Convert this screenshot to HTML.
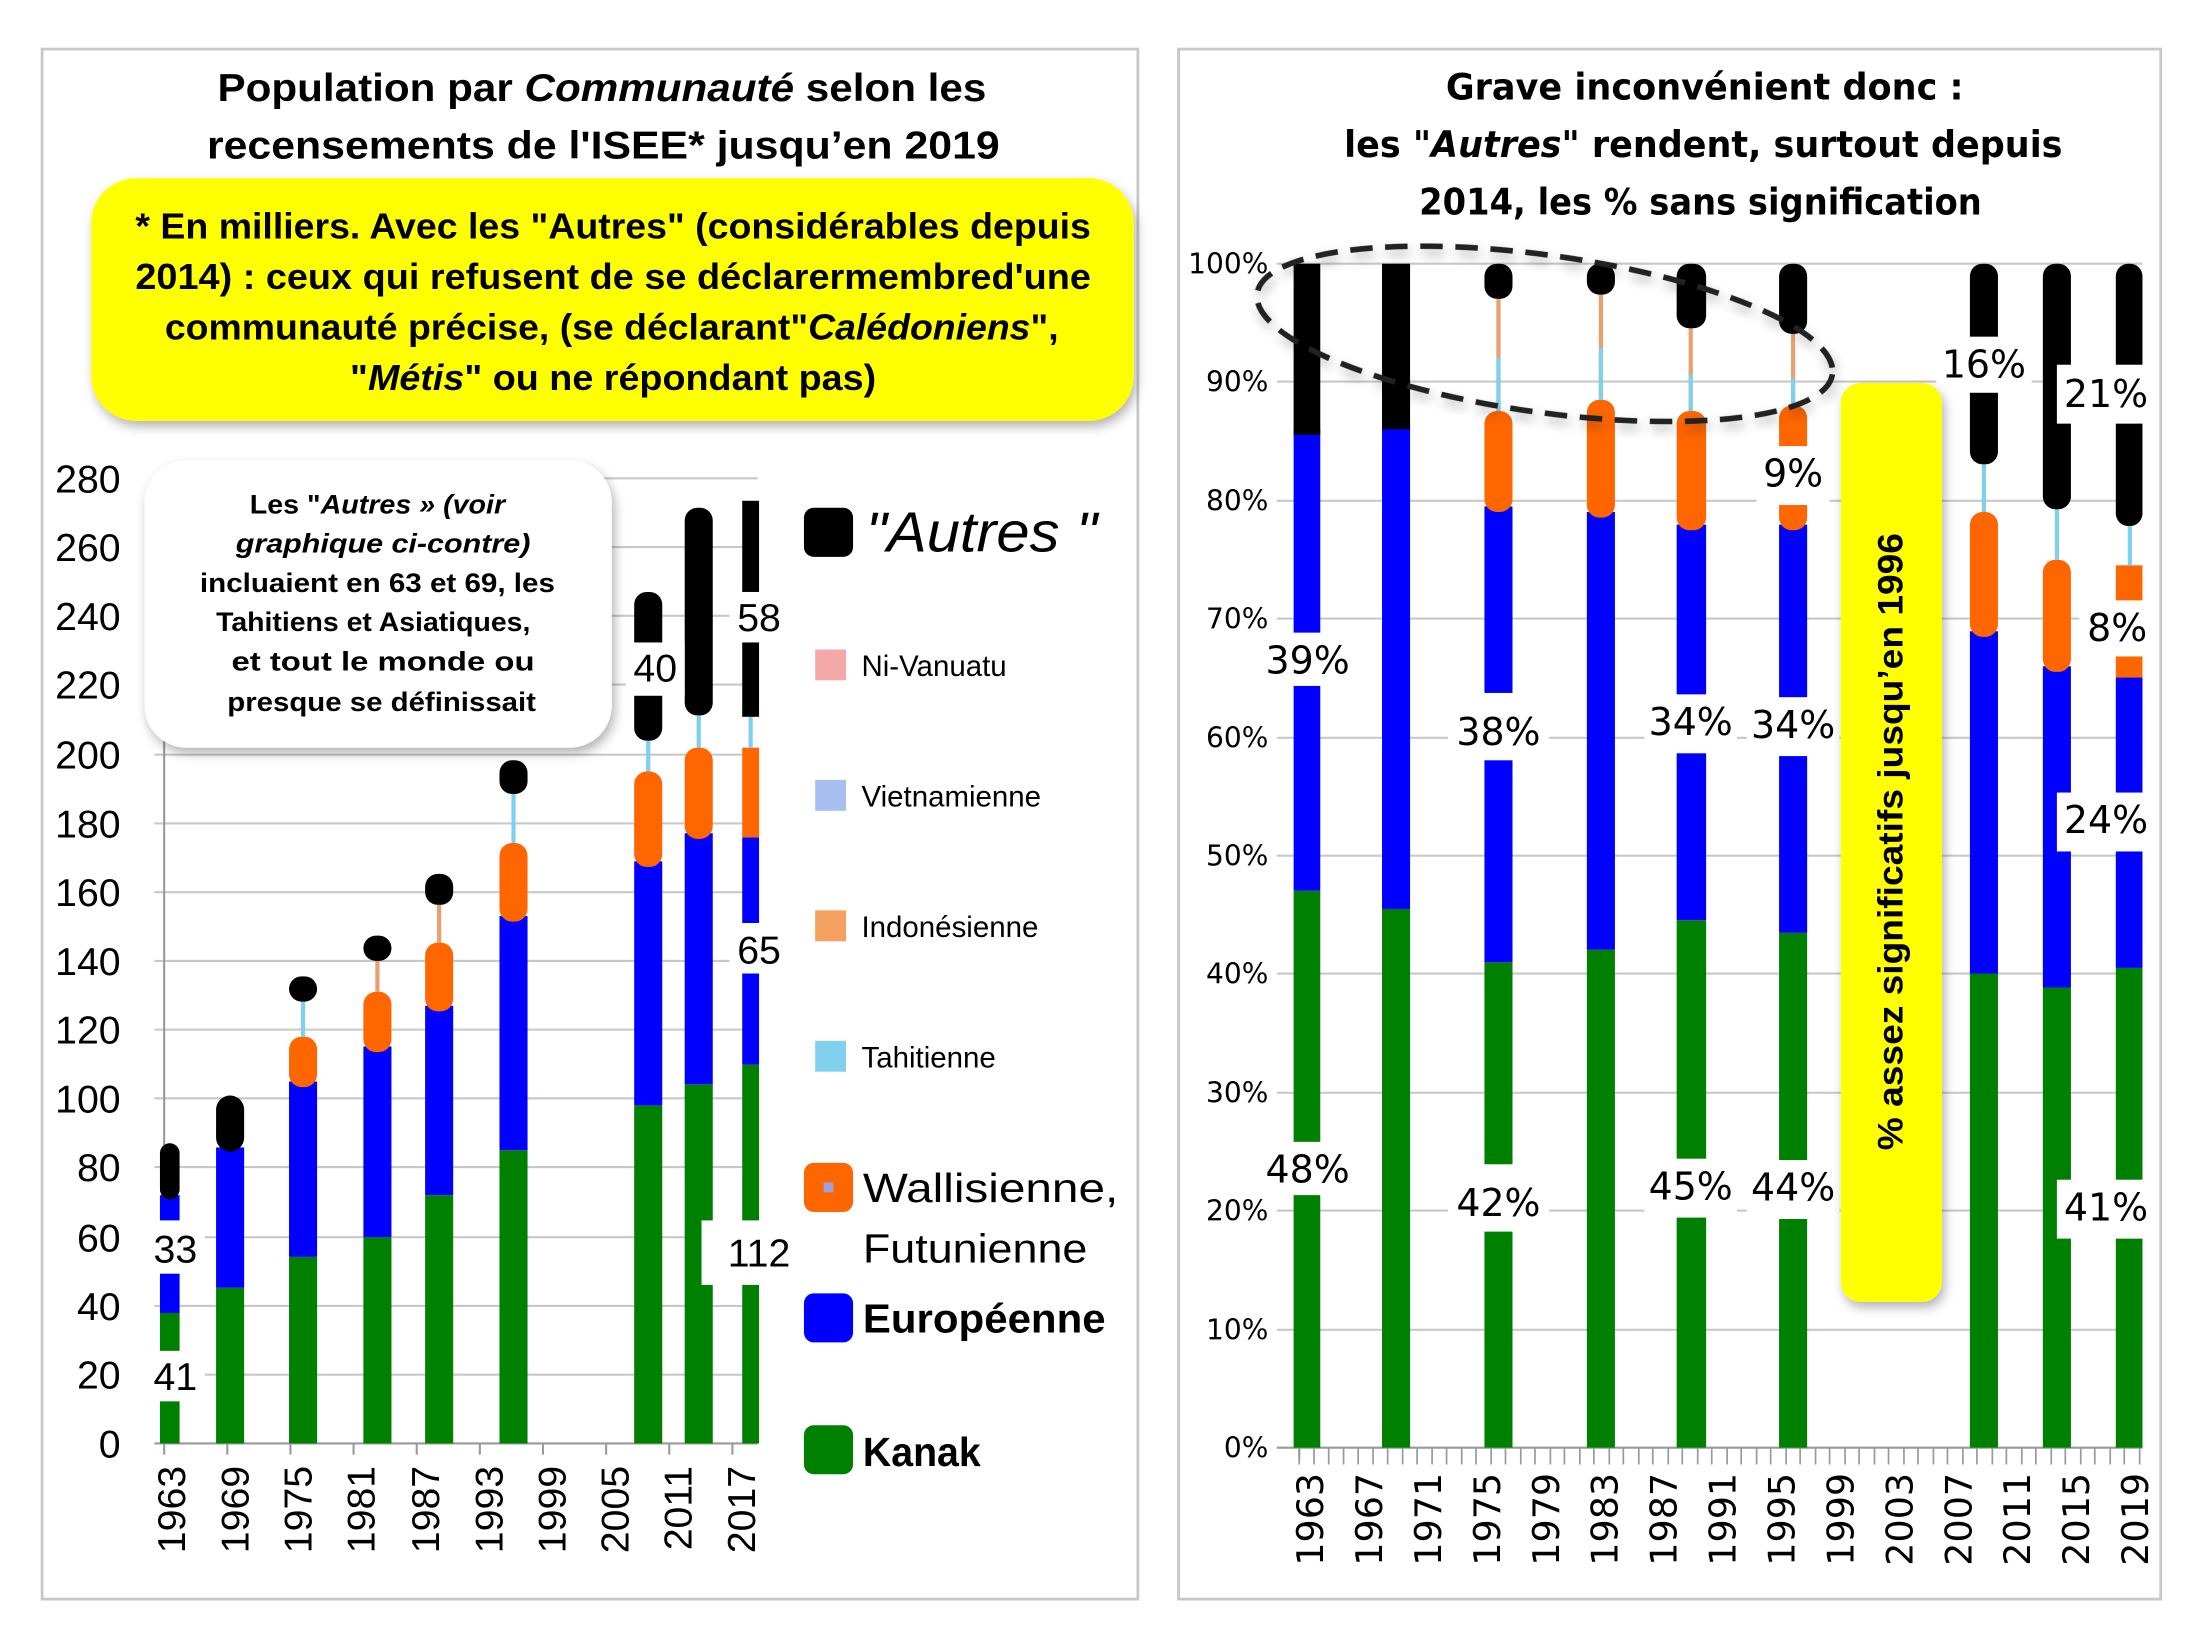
<!DOCTYPE html>
<html><head><meta charset="utf-8"><style>html,body{margin:0;padding:0;background:#fff}svg{display:block}</style></head>
<body>
<svg width="2200" height="1630" viewBox="0 0 1568 1162" preserveAspectRatio="none" xmlns="http://www.w3.org/2000/svg" font-family="Liberation Sans, DejaVu Sans, sans-serif">
<defs>
<filter id="sh" x="-10%" y="-10%" width="125%" height="130%"><feDropShadow dx="2" dy="4" stdDeviation="4" flood-color="#000" flood-opacity="0.3"/></filter>
</defs>
<rect width="1568" height="1162" fill="#fff"/>
<!-- LEFT PANEL -->
<rect x="30" y="35" width="781" height="1105" fill="#fff" stroke="#c8c8c8" stroke-width="2"/>
<g font-weight="bold" font-size="28" text-anchor="middle" fill="#000">
<text x="429" y="72" textLength="548" lengthAdjust="spacingAndGlyphs">Population par  <tspan font-style="italic">Communauté</tspan> selon les</text>
<text x="430" y="113" textLength="565" lengthAdjust="spacingAndGlyphs">recensements de l'ISEE* jusqu’en   2019</text>
</g>
<rect x="65" y="127" width="743" height="173" rx="32" fill="#ffff00" filter="url(#sh)"/>
<g font-weight="bold" font-size="26" text-anchor="middle" fill="#000">
<text x="437" y="170" textLength="681" lengthAdjust="spacingAndGlyphs">* En milliers. Avec les "Autres" (considérables depuis</text>
<text x="437" y="206" textLength="681" lengthAdjust="spacingAndGlyphs">2014) : ceux qui refusent de se déclarermembred'une</text>
<text x="436" y="242" textLength="637" lengthAdjust="spacingAndGlyphs">communauté précise, (se déclarant"<tspan font-style="italic">Calédoniens</tspan>",</text>
<text x="437" y="278" textLength="375" lengthAdjust="spacingAndGlyphs">"<tspan font-style="italic">Métis</tspan>" ou ne répondant pas)</text>
</g>
<!-- left grid -->
<g stroke="#c8c8c8" stroke-width="1.5">
<line x1="110" y1="341" x2="540" y2="341"/><line x1="110" y1="390" x2="540" y2="390"/><line x1="110" y1="439" x2="540" y2="439"/><line x1="110" y1="488" x2="540" y2="488"/><line x1="110" y1="538" x2="540" y2="538"/><line x1="110" y1="587" x2="540" y2="587"/><line x1="110" y1="636" x2="540" y2="636"/><line x1="110" y1="685" x2="540" y2="685"/><line x1="110" y1="734" x2="540" y2="734"/><line x1="110" y1="783" x2="540" y2="783"/><line x1="110" y1="832" x2="540" y2="832"/><line x1="110" y1="882" x2="540" y2="882"/><line x1="110" y1="931" x2="540" y2="931"/><line x1="110" y1="980" x2="540" y2="980"/>
</g>
<g stroke="#999" stroke-width="1.5">
<line x1="117" y1="520" x2="117" y2="1037"/><line x1="110" y1="1029" x2="540" y2="1029"/>
<line x1="162" y1="1029" x2="162" y2="1037"/><line x1="207" y1="1029" x2="207" y2="1037"/><line x1="252" y1="1029" x2="252" y2="1037"/><line x1="297" y1="1029" x2="297" y2="1037"/><line x1="342" y1="1029" x2="342" y2="1037"/><line x1="387" y1="1029" x2="387" y2="1037"/><line x1="432" y1="1029" x2="432" y2="1037"/><line x1="477" y1="1029" x2="477" y2="1037"/><line x1="522" y1="1029" x2="522" y2="1037"/>
</g>
<g font-size="28" text-anchor="end" fill="#000">
<text x="86" y="351">280</text><text x="86" y="400">260</text><text x="86" y="449">240</text><text x="86" y="498">220</text><text x="86" y="548">200</text><text x="86" y="597">180</text><text x="86" y="646">160</text><text x="86" y="695">140</text><text x="86" y="744">120</text><text x="86" y="793">100</text><text x="86" y="842">80</text><text x="86" y="892">60</text><text x="86" y="941">40</text><text x="86" y="990">20</text><text x="86" y="1039">0</text>
</g>
<g font-size="28" fill="#000" text-anchor="end">
<text transform="translate(132,1045) rotate(-90)">1963</text>
<text transform="translate(177,1045) rotate(-90)">1969</text>
<text transform="translate(222,1045) rotate(-90)">1975</text>
<text transform="translate(267,1045) rotate(-90)">1981</text>
<text transform="translate(313,1045) rotate(-90)">1987</text>
<text transform="translate(358,1045) rotate(-90)">1993</text>
<text transform="translate(403,1045) rotate(-90)">1999</text>
<text transform="translate(448,1045) rotate(-90)">2005</text>
<text transform="translate(493,1045) rotate(-90)">2011</text>
<text transform="translate(538,1045) rotate(-90)">2017</text>
</g>
<!-- left bars -->
<g>
<!-- 1963 -->
<rect x="114" y="936" width="14" height="93" fill="#008000"/><rect x="114" y="852" width="14" height="84" fill="#0000ff"/><rect x="114" y="815" width="14" height="40" rx="7" fill="#000"/>
<!-- 1969 -->
<rect x="154" y="918" width="20" height="111" fill="#008000"/><rect x="154" y="818" width="20" height="100" fill="#0000ff"/><rect x="154" y="781" width="20" height="40" rx="10" fill="#000"/>
<!-- 1976 -->
<rect x="206" y="896" width="20" height="133" fill="#008000"/><rect x="206" y="771" width="20" height="125" fill="#0000ff"/><rect x="206" y="739" width="20" height="36" rx="9" fill="#ff6600"/><line x1="216" y1="739" x2="216" y2="712" stroke="#7fd0ee" stroke-width="3"/><rect x="206" y="696" width="20" height="18" rx="9" fill="#000"/>
<!-- 1983 -->
<rect x="259" y="882" width="20" height="147" fill="#008000"/><rect x="259" y="746" width="20" height="136" fill="#0000ff"/><rect x="259" y="707" width="20" height="43" rx="9" fill="#ff6600"/><line x1="269" y1="707" x2="269" y2="682" stroke="#e8a070" stroke-width="3"/><rect x="259" y="667" width="20" height="18" rx="9" fill="#000"/>
<!-- 1989 -->
<rect x="303" y="852" width="20" height="177" fill="#008000"/><rect x="303" y="717" width="20" height="135" fill="#0000ff"/><rect x="303" y="672" width="20" height="49" rx="9" fill="#ff6600"/><line x1="313" y1="672" x2="313" y2="642" stroke="#e8a070" stroke-width="3"/><rect x="303" y="623" width="20" height="22" rx="9" fill="#000"/>
<!-- 1996 -->
<rect x="356" y="820" width="20" height="209" fill="#008000"/><rect x="356" y="653" width="20" height="167" fill="#0000ff"/><rect x="356" y="601" width="20" height="56" rx="9" fill="#ff6600"/><line x1="366" y1="601" x2="366" y2="564" stroke="#7fd0ee" stroke-width="3"/><rect x="356" y="542" width="20" height="24" rx="9" fill="#000"/>
<!-- 2009 -->
<rect x="452" y="788" width="20" height="241" fill="#008000"/><rect x="452" y="614" width="20" height="174" fill="#0000ff"/><rect x="452" y="550" width="20" height="68" rx="9" fill="#ff6600"/><line x1="462" y1="550" x2="462" y2="526" stroke="#7fd0ee" stroke-width="3"/><rect x="452" y="422" width="20" height="106" rx="9" fill="#000"/>
<!-- 2014 -->
<rect x="488" y="773" width="20" height="256" fill="#008000"/><rect x="488" y="594" width="20" height="179" fill="#0000ff"/><rect x="488" y="533" width="20" height="65" rx="9" fill="#ff6600"/><line x1="498" y1="533" x2="498" y2="510" stroke="#7fd0ee" stroke-width="3"/><rect x="488" y="362" width="20" height="148" rx="9" fill="#000"/>
<!-- 2019 -->
<rect x="529" y="759" width="12" height="270" fill="#008000"/><rect x="529" y="597" width="12" height="162" fill="#0000ff"/><rect x="529" y="533" width="12" height="64" fill="#ff6600"/><line x1="535" y1="533" x2="535" y2="511" stroke="#7fd0ee" stroke-width="3"/><rect x="529" y="357" width="12" height="154" fill="#000"/>
</g>
<g font-size="28" text-anchor="middle" fill="#000">
<rect x="104" y="963" width="42" height="36" fill="#fff"/><text x="125" y="991">41</text>
<rect x="104" y="870" width="42" height="38" fill="#fff"/><text x="125" y="900">33</text>
<rect x="446" y="458" width="42" height="38" fill="#fff"/><text x="467" y="486">40</text>
<rect x="520" y="422" width="42" height="36" fill="#fff"/><text x="541" y="450">58</text>
<rect x="520" y="658" width="42" height="36" fill="#fff"/><text x="541" y="687">65</text>
<rect x="500" y="870" width="72" height="46" fill="#fff"/><text x="541" y="903">112</text>
</g>
<!-- callout -->
<rect x="103" y="328" width="333" height="205" rx="30" fill="#fff" filter="url(#sh)"/>
<g font-weight="bold" font-size="19" text-anchor="middle" fill="#000">
<text x="269" y="366" textLength="182" lengthAdjust="spacingAndGlyphs">Les "<tspan font-style="italic">Autres  » (voir</tspan></text>
<text x="273" y="394" textLength="210" lengthAdjust="spacingAndGlyphs" font-style="italic">graphique ci-contre)</text>
<text x="269" y="422" textLength="253" lengthAdjust="spacingAndGlyphs">incluaient en 63 et 69, les</text>
<text x="266" y="450" textLength="224" lengthAdjust="spacingAndGlyphs">Tahitiens et Asiatiques,</text>
<text x="273" y="478" textLength="216" lengthAdjust="spacingAndGlyphs">et tout le monde ou</text>
<text x="272" y="507" textLength="220" lengthAdjust="spacingAndGlyphs">presque se définissait</text>
</g>
<!-- legend -->
<rect x="573" y="362" width="35" height="35" rx="7" fill="#000"/>
<text x="617" y="393" font-size="40" font-style="italic" textLength="165" lengthAdjust="spacingAndGlyphs">"Autres "</text>
<rect x="581" y="463" width="22" height="22" fill="#f4a8a8"/><text x="614" y="482" font-size="21">Ni-Vanuatu</text>
<rect x="581" y="556" width="22" height="22" fill="#a8c0f0"/><text x="614" y="575" font-size="21">Vietnamienne</text>
<rect x="581" y="649" width="22" height="22" fill="#f4a060"/><text x="614" y="668" font-size="21">Indonésienne</text>
<rect x="581" y="742" width="22" height="22" fill="#80d0ee"/><text x="614" y="761" font-size="21">Tahitienne</text>
<rect x="573" y="829" width="35" height="35" rx="7" fill="#ff6600"/><rect x="587" y="843" width="7" height="7" fill="#a0a0e0"/>
<text x="615" y="857" font-size="29" textLength="182" lengthAdjust="spacingAndGlyphs">Wallisienne,</text>
<text x="615" y="900" font-size="29" textLength="160" lengthAdjust="spacingAndGlyphs">Futunienne</text>
<rect x="573" y="922" width="35" height="35" rx="7" fill="#0000ff"/>
<text x="615" y="950" font-size="29" font-weight="bold" textLength="173" lengthAdjust="spacingAndGlyphs">Européenne</text>
<rect x="573" y="1016" width="35" height="35" rx="7" fill="#008000"/>
<text x="615" y="1045" font-size="29" font-weight="bold" textLength="84" lengthAdjust="spacingAndGlyphs">Kanak</text>

<!-- RIGHT PANEL -->
<rect x="840" y="35" width="700" height="1105" fill="#fff" stroke="#c8c8c8" stroke-width="2"/>
<g font-weight="bold" font-size="26" text-anchor="middle" fill="#000" font-family="DejaVu Sans, sans-serif">
<text x="1215" y="71" textLength="369" lengthAdjust="spacingAndGlyphs">Grave inconvénient donc :</text>
<text x="1214" y="112" textLength="512" lengthAdjust="spacingAndGlyphs">les "<tspan font-style="italic">Autres</tspan>" rendent, surtout depuis</text>
<text x="1212" y="153" textLength="401" lengthAdjust="spacingAndGlyphs">2014, les % sans signification</text>
</g>
<g stroke="#c8c8c8" stroke-width="1.5">
<line x1="910" y1="188" x2="1527" y2="188"/><line x1="910" y1="272" x2="1527" y2="272"/><line x1="910" y1="357" x2="1527" y2="357"/><line x1="910" y1="441" x2="1527" y2="441"/><line x1="910" y1="526" x2="1527" y2="526"/><line x1="910" y1="610" x2="1527" y2="610"/><line x1="910" y1="694" x2="1527" y2="694"/><line x1="910" y1="779" x2="1527" y2="779"/><line x1="910" y1="863" x2="1527" y2="863"/><line x1="910" y1="948" x2="1527" y2="948"/>
</g>
<g stroke="#999" stroke-width="1.5">
<line x1="926" y1="188" x2="926" y2="1040"/><line x1="910" y1="1032" x2="1527" y2="1032"/>
</g>
<g stroke="#999" stroke-width="1.2" id="ticks">
<path d="M926 1032v12M936.5 1032v12M947 1032v12M957.6 1032v12M968 1032v12M978.6 1032v12M989 1032v12M999.7 1032v12M1010 1032v12M1020.7 1032v12M1031 1032v12M1041.8 1032v12M1052 1032v12M1062.8 1032v12M1073 1032v12M1083.9 1032v12M1094 1032v12M1105 1032v12M1115 1032v12M1126 1032v12M1136 1032v12M1147 1032v12M1157 1032v12M1168 1032v12M1178 1032v12M1189 1032v12M1199 1032v12M1210 1032v12M1220 1032v12M1231 1032v12M1241 1032v12M1252 1032v12M1262 1032v12M1273 1032v12M1283 1032v12M1294 1032v12M1304 1032v12M1315 1032v12M1325 1032v12M1336 1032v12M1346 1032v12M1357 1032v12M1367 1032v12M1378 1032v12M1388 1032v12M1399 1032v12M1409 1032v12M1420 1032v12M1430 1032v12M1441 1032v12M1451 1032v12M1462 1032v12M1472 1032v12M1483 1032v12M1493 1032v12M1504 1032v12M1514 1032v12M1525 1032v12"/>
</g>
<g font-size="20" text-anchor="end" fill="#000" font-family="DejaVu Sans, sans-serif">
<text x="904" y="195">100%</text><text x="904" y="279">90%</text><text x="904" y="364">80%</text><text x="904" y="448">70%</text><text x="904" y="533">60%</text><text x="904" y="617">50%</text><text x="904" y="701">40%</text><text x="904" y="786">30%</text><text x="904" y="870">20%</text><text x="904" y="955">10%</text><text x="904" y="1039">0%</text>
</g>
<g font-size="26" fill="#000" text-anchor="end" font-family="DejaVu Sans, sans-serif">
<text transform="translate(943,1050) rotate(-90)">1963</text>
<text transform="translate(985,1050) rotate(-90)">1967</text>
<text transform="translate(1027,1050) rotate(-90)">1971</text>
<text transform="translate(1069,1050) rotate(-90)">1975</text>
<text transform="translate(1111,1050) rotate(-90)">1979</text>
<text transform="translate(1153,1050) rotate(-90)">1983</text>
<text transform="translate(1195,1050) rotate(-90)">1987</text>
<text transform="translate(1237,1050) rotate(-90)">1991</text>
<text transform="translate(1279,1050) rotate(-90)">1995</text>
<text transform="translate(1321,1050) rotate(-90)">1999</text>
<text transform="translate(1363,1050) rotate(-90)">2003</text>
<text transform="translate(1405,1050) rotate(-90)">2007</text>
<text transform="translate(1447,1050) rotate(-90)">2011</text>
<text transform="translate(1489,1050) rotate(-90)">2015</text>
<text transform="translate(1531,1050) rotate(-90)">2019</text>
</g>
<!-- right bars -->
<g>
<rect x="922" y="635" width="19" height="397" fill="#008000"/><rect x="922" y="306" width="19" height="329" fill="#0000ff"/><rect x="922" y="188" width="19" height="122" fill="#000"/>
<rect x="985" y="648" width="20" height="384" fill="#008000"/><rect x="985" y="302" width="20" height="346" fill="#0000ff"/><rect x="985" y="188" width="20" height="118" fill="#000"/>
<rect x="1058" y="686" width="20" height="346" fill="#008000"/><rect x="1058" y="361" width="20" height="325" fill="#0000ff"/><rect x="1058" y="293" width="20" height="72" rx="9" fill="#ff6600"/><line x1="1068" y1="293" x2="1068" y2="211" stroke="#e8a070" stroke-width="3"/><line x1="1068" y1="293" x2="1068" y2="255" stroke="#7fd0ee" stroke-width="3"/><rect x="1058" y="188" width="20" height="25" rx="9" fill="#000"/>
<rect x="1131" y="677" width="20" height="355" fill="#008000"/><rect x="1131" y="365" width="20" height="312" fill="#0000ff"/><rect x="1131" y="285" width="20" height="84" rx="9" fill="#ff6600"/><line x1="1141" y1="285" x2="1141" y2="207" stroke="#e8a070" stroke-width="3"/><line x1="1141" y1="285" x2="1141" y2="248" stroke="#7fd0ee" stroke-width="3"/><rect x="1131" y="188" width="20" height="22" rx="9" fill="#000"/>
<rect x="1195" y="656" width="21" height="376" fill="#008000"/><rect x="1195" y="374" width="21" height="282" fill="#0000ff"/><rect x="1195" y="293" width="21" height="85" rx="9" fill="#ff6600"/><line x1="1205" y1="293" x2="1205" y2="233" stroke="#e8a070" stroke-width="3"/><line x1="1205" y1="293" x2="1205" y2="267" stroke="#7fd0ee" stroke-width="3"/><rect x="1195" y="188" width="21" height="46" rx="9" fill="#000"/>
<rect x="1268" y="665" width="20" height="367" fill="#008000"/><rect x="1268" y="374" width="20" height="291" fill="#0000ff"/><rect x="1268" y="289" width="20" height="89" rx="9" fill="#ff6600"/><line x1="1278" y1="289" x2="1278" y2="237" stroke="#e8a070" stroke-width="3"/><line x1="1278" y1="289" x2="1278" y2="270" stroke="#7fd0ee" stroke-width="3"/><rect x="1268" y="188" width="20" height="50" rx="9" fill="#000"/>
<rect x="1404" y="694" width="20" height="338" fill="#008000"/><rect x="1404" y="450" width="20" height="244" fill="#0000ff"/><rect x="1404" y="365" width="20" height="89" rx="9" fill="#ff6600"/><line x1="1414" y1="365" x2="1414" y2="330" stroke="#7fd0ee" stroke-width="3"/><rect x="1404" y="188" width="20" height="143" rx="9" fill="#000"/>
<rect x="1456" y="704" width="20" height="328" fill="#008000"/><rect x="1456" y="475" width="20" height="229" fill="#0000ff"/><rect x="1456" y="399" width="20" height="80" rx="9" fill="#ff6600"/><line x1="1466" y1="399" x2="1466" y2="362" stroke="#7fd0ee" stroke-width="3"/><rect x="1456" y="188" width="20" height="175" rx="9" fill="#000"/>
<rect x="1508" y="690" width="19" height="342" fill="#008000"/><rect x="1508" y="483" width="19" height="207" fill="#0000ff"/><rect x="1508" y="403" width="19" height="80" fill="#ff6600"/><line x1="1518" y1="403" x2="1518" y2="375" stroke="#7fd0ee" stroke-width="3"/><rect x="1508" y="188" width="19" height="187" rx="9" fill="#000"/>
</g>
<g font-size="27" text-anchor="middle" fill="#000" font-family="DejaVu Sans, sans-serif">
<rect x="900" y="451" width="64" height="38" fill="#fff"/><text x="932" y="480">39%</text>
<rect x="900" y="814" width="64" height="38" fill="#fff"/><text x="932" y="843">48%</text>
<rect x="1032" y="494" width="72" height="48" fill="#fff"/><text x="1068" y="531">38%</text>
<rect x="1032" y="830" width="72" height="48" fill="#fff"/><text x="1068" y="867">42%</text>
<rect x="1172" y="495" width="66" height="42" fill="#fff"/><text x="1205" y="524">34%</text>
<rect x="1172" y="826" width="66" height="42" fill="#fff"/><text x="1205" y="855">45%</text>
<rect x="1245" y="497" width="66" height="42" fill="#fff"/><text x="1278" y="526">34%</text>
<rect x="1245" y="827" width="66" height="42" fill="#fff"/><text x="1278" y="856">44%</text>
<rect x="1252" y="318" width="52" height="42" fill="#fff"/><text x="1278" y="347">9%</text>
<rect x="1380" y="240" width="68" height="40" fill="#fff"/><text x="1414" y="269">16%</text>
<rect x="1466" y="260" width="70" height="42" fill="#fff"/><text x="1501" y="290">21%</text>
<rect x="1482" y="428" width="54" height="40" fill="#fff"/><text x="1509" y="457">8%</text>
<rect x="1466" y="565" width="70" height="42" fill="#fff"/><text x="1501" y="594">24%</text>
<rect x="1466" y="841" width="70" height="42" fill="#fff"/><text x="1501" y="870">41%</text>
</g>
<rect x="1312" y="273" width="72" height="655" rx="14" fill="#ffff00" filter="url(#sh)"/>
<text transform="translate(1356,600) rotate(-90)" font-size="25" font-weight="bold" text-anchor="middle" textLength="440" lengthAdjust="spacingAndGlyphs">% assez significatifs jusqu’en 1996</text>
<ellipse cx="1101" cy="238" rx="207" ry="56" transform="rotate(8 1101 238)" fill="none" stroke="#222" stroke-width="4" stroke-dasharray="16 9" filter="url(#sh)"/>
</svg>
</body></html>
